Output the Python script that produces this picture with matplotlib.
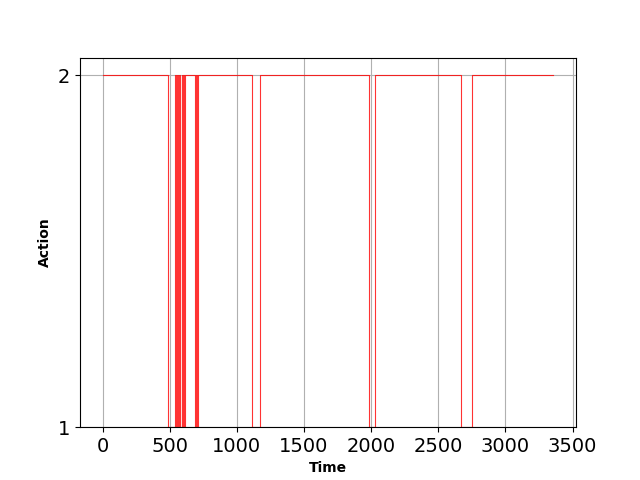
import matplotlib
matplotlib.use("Agg")
import matplotlib.pyplot as plt

# change points (time) and the action value that starts at that time
change_times = [0, 484, 541, 546, 556, 562, 572, 577, 588, 592, 600, 605, 612,
                690, 696, 706, 712, 1115, 1171, 1985, 2030, 2668, 2748, 3358]
actions = [2, 1, 2, 1, 2, 1, 2, 1, 2, 1, 2, 1, 2,
           1, 2, 1, 2, 1, 2, 1, 2, 1, 2, 2]

fig, ax = plt.subplots(figsize=(6.4, 4.8), dpi=100)
ax.step(change_times, actions, where='post', color='red', linewidth=0.8, alpha=0.8)
ax.set_ylim(1, 2.05)
ax.set_yticks([1, 2])
ax.set_xticks([0, 500, 1000, 1500, 2000, 2500, 3000, 3500])
ax.tick_params(labelsize=14)
ax.grid(True, color='#b0b0b0', linewidth=0.8)
ax.set_xlabel('Time', fontweight='bold', fontsize=10)
ax.set_ylabel('Action', fontweight='bold', fontsize=10)
fig.savefig('out.png', dpi=100)
